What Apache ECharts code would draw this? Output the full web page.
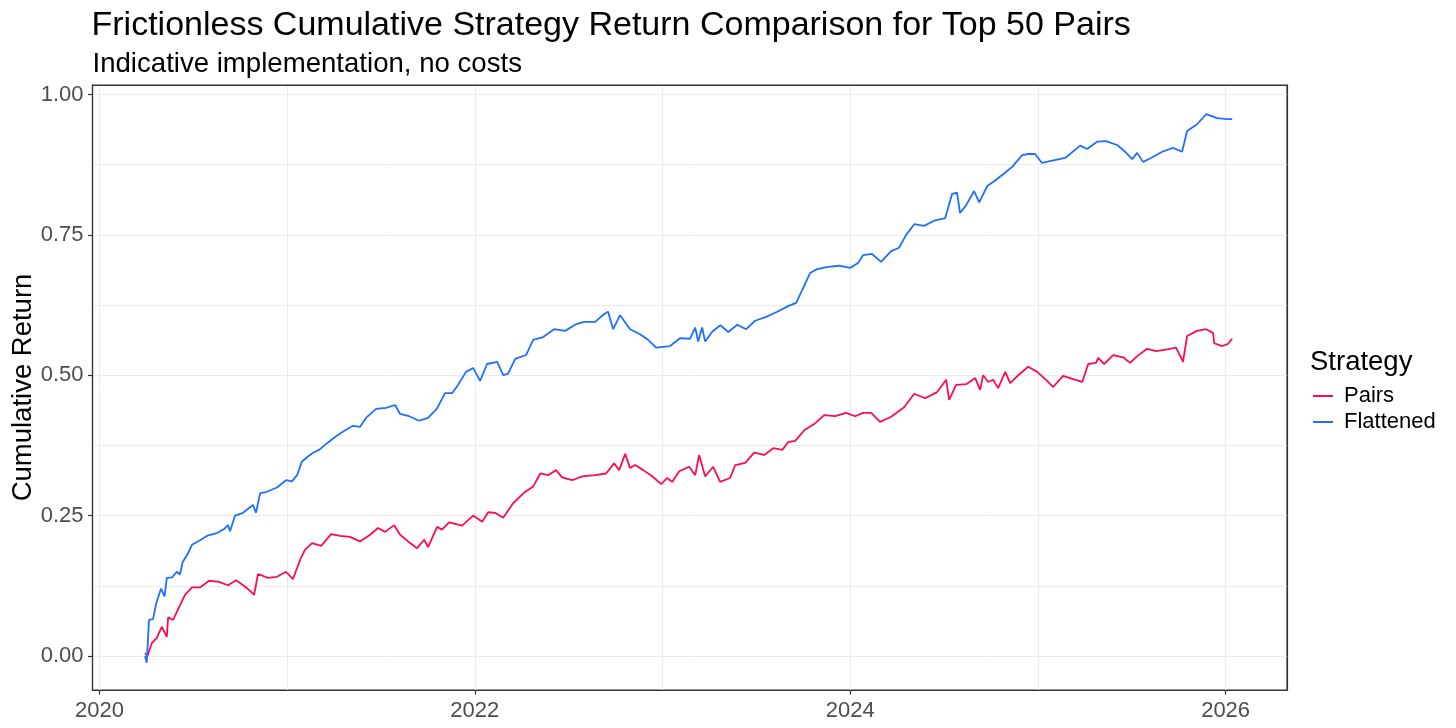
<!DOCTYPE html>
<html>
<head>
<meta charset="utf-8">
<script src="https://cdn.jsdelivr.net/npm/echarts@6/dist/echarts.min.js"></script>
<style>
  html, body { margin: 0; padding: 0; background: #ffffff; }
  #chart { width: 1456px; height: 728px; }
</style>
</head>
<body>
<div id="chart"></div>
<script>
// ---- Data (x = decimal year, y = cumulative return) ----
const seriesNames = ['Pairs', 'Flattened'];

const pairs = [
  [2020.243,0.005],[2020.256,0.000],[2020.279,0.023],[2020.305,0.032],[2020.332,0.052],[2020.359,0.034],[2020.366,0.069],[2020.392,0.064],[2020.424,0.087],[2020.456,0.109],
  [2020.493,0.122],[2020.536,0.122],[2020.584,0.134],[2020.637,0.132],[2020.685,0.126],[2020.728,0.135],[2020.786,0.121],[2020.824,0.109],[2020.845,0.146],[2020.898,0.139],
  [2020.946,0.141],[2020.994,0.150],[2021.031,0.137],[2021.069,0.171],[2021.095,0.189],[2021.133,0.201],[2021.181,0.196],[2021.234,0.217],[2021.282,0.214],[2021.335,0.212],
  [2021.388,0.204],[2021.442,0.216],[2021.484,0.228],[2021.522,0.221],[2021.570,0.233],[2021.602,0.216],[2021.644,0.204],[2021.692,0.192],[2021.730,0.207],[2021.751,0.194],
  [2021.799,0.230],[2021.825,0.225],[2021.863,0.238],[2021.932,0.232],[2021.991,0.250],[2022.039,0.239],[2022.071,0.256],[2022.108,0.255],[2022.151,0.246],[2022.204,0.272],
  [2022.263,0.291],[2022.311,0.302],[2022.349,0.325],[2022.391,0.322],[2022.433,0.331],[2022.465,0.318],[2022.518,0.313],[2022.572,0.320],[2022.641,0.322],[2022.699,0.325],
  [2022.742,0.343],[2022.769,0.331],[2022.801,0.360],[2022.827,0.335],[2022.854,0.340],[2022.897,0.331],[2022.945,0.320],[2022.993,0.306],[2023.025,0.317],[2023.051,0.310],
  [2023.089,0.329],[2023.142,0.337],[2023.174,0.322],[2023.195,0.358],[2023.227,0.320],[2023.270,0.337],[2023.307,0.310],[2023.360,0.317],[2023.387,0.340],[2023.441,0.344],
  [2023.488,0.362],[2023.542,0.358],[2023.590,0.370],[2023.638,0.367],[2023.670,0.381],[2023.707,0.383],[2023.755,0.402],[2023.808,0.413],[2023.861,0.429],[2023.920,0.427],
  [2023.978,0.433],[2024.026,0.427],[2024.069,0.433],[2024.112,0.433],[2024.159,0.417],[2024.218,0.426],[2024.287,0.443],[2024.341,0.467],[2024.399,0.459],[2024.463,0.470],
  [2024.511,0.492],[2024.527,0.456],[2024.564,0.483],[2024.618,0.484],[2024.666,0.495],[2024.692,0.474],[2024.708,0.500],[2024.735,0.488],[2024.761,0.492],[2024.788,0.477],
  [2024.826,0.506],[2024.852,0.486],[2024.895,0.500],[2024.948,0.515],[2024.996,0.506],[2025.049,0.490],[2025.081,0.479],[2025.134,0.499],[2025.188,0.493],[2025.236,0.488],
  [2025.268,0.520],[2025.310,0.522],[2025.321,0.531],[2025.353,0.520],[2025.401,0.536],[2025.454,0.532],[2025.491,0.522],[2025.529,0.534],[2025.582,0.547],[2025.630,0.543],
  [2025.688,0.546],[2025.736,0.549],[2025.757,0.535],[2025.773,0.524],[2025.795,0.570],[2025.848,0.579],[2025.897,0.582],[2025.934,0.575],[2025.939,0.557],[2025.982,0.552],
  [2026.013,0.556],[2026.035,0.565]
];

const flattened = [
  [2020.243,0.000],[2020.252,-0.012],[2020.264,0.064],[2020.286,0.066],[2020.302,0.093],[2020.328,0.120],[2020.347,0.106],[2020.359,0.139],[2020.387,0.140],[2020.412,0.150],
  [2020.429,0.145],[2020.443,0.167],[2020.472,0.183],[2020.493,0.198],[2020.536,0.206],[2020.579,0.215],[2020.627,0.219],[2020.664,0.226],[2020.685,0.233],[2020.696,0.222],
  [2020.722,0.250],[2020.765,0.255],[2020.818,0.269],[2020.834,0.255],[2020.856,0.290],[2020.888,0.292],[2020.946,0.300],[2020.994,0.313],[2021.026,0.311],[2021.053,0.322],
  [2021.078,0.346],[2021.106,0.354],[2021.138,0.362],[2021.170,0.367],[2021.213,0.379],[2021.255,0.390],[2021.309,0.402],[2021.351,0.410],[2021.388,0.408],[2021.420,0.424],
  [2021.474,0.440],[2021.527,0.442],[2021.575,0.447],[2021.602,0.431],[2021.650,0.427],[2021.703,0.419],[2021.751,0.424],[2021.799,0.441],[2021.841,0.468],[2021.879,0.468],
  [2021.911,0.483],[2021.953,0.506],[2021.991,0.513],[2022.028,0.490],[2022.065,0.520],[2022.119,0.524],[2022.151,0.500],[2022.177,0.503],[2022.215,0.529],[2022.273,0.536],
  [2022.311,0.563],[2022.364,0.568],[2022.422,0.582],[2022.481,0.579],[2022.534,0.590],[2022.582,0.595],[2022.641,0.595],[2022.689,0.609],[2022.710,0.613],[2022.737,0.582],
  [2022.774,0.607],[2022.827,0.582],[2022.880,0.573],[2022.923,0.563],[2022.966,0.549],[2023.040,0.552],[2023.093,0.566],[2023.147,0.565],[2023.174,0.585],[2023.190,0.560],
  [2023.211,0.585],[2023.227,0.560],[2023.266,0.578],[2023.308,0.589],[2023.350,0.577],[2023.398,0.590],[2023.446,0.582],[2023.493,0.597],[2023.552,0.604],[2023.611,0.613],
  [2023.669,0.623],[2023.712,0.629],[2023.749,0.655],[2023.786,0.682],[2023.823,0.689],[2023.882,0.693],[2023.941,0.695],[2023.999,0.691],[2024.042,0.700],[2024.069,0.714],
  [2024.116,0.716],[2024.164,0.702],[2024.218,0.721],[2024.260,0.727],[2024.298,0.750],[2024.341,0.769],[2024.394,0.766],[2024.452,0.776],[2024.506,0.780],[2024.543,0.823],
  [2024.569,0.825],[2024.585,0.789],[2024.618,0.803],[2024.660,0.828],[2024.687,0.808],[2024.730,0.837],[2024.761,0.844],[2024.815,0.858],[2024.863,0.871],[2024.916,0.892],
  [2024.948,0.894],[2024.985,0.894],[2025.022,0.878],[2025.076,0.882],[2025.145,0.887],[2025.225,0.909],[2025.262,0.903],[2025.315,0.916],[2025.363,0.917],[2025.422,0.910],
  [2025.465,0.898],[2025.502,0.885],[2025.529,0.896],[2025.560,0.880],[2025.603,0.887],[2025.662,0.898],[2025.720,0.905],[2025.768,0.898],[2025.795,0.935],[2025.848,0.947],
  [2025.897,0.965],[2025.955,0.958],[2026.008,0.956],[2026.035,0.956]
];

const xTicks = [2020, 2022, 2024, 2026];
const yTicks = [0, 0.25, 0.5, 0.75, 1.0];

// ---- Chart ----
const FONT = '"Liberation Sans", Arial, "DejaVu Sans", sans-serif';
const X_MIN = 2019.963, X_MAX = 2026.327;
const Y_MIN = -0.0606, Y_MAX = 1.0169;
const BORDER = '#333333';
const GRID = '#EBEBEB';

const chart = echarts.init(document.getElementById('chart'), null, { renderer: 'canvas' });

chart.setOption({
  animation: false,
  backgroundColor: '#ffffff',
  textStyle: { fontFamily: FONT },
  title: [
    { text: 'Frictionless Cumulative Strategy Return Comparison for Top 50 Pairs',
      left: 91.5, top: 9, padding: 0,
      textStyle: { fontFamily: FONT, fontSize: 34, fontWeight: 'normal', color: '#000000' } },
    { text: 'Indicative implementation, no costs',
      left: 92.5, top: 50, padding: 0,
      textStyle: { fontFamily: FONT, fontSize: 27.6, fontWeight: 'normal', color: '#000000' } },
    { text: 'Strategy',
      left: 1310, top: 348, padding: 0,
      textStyle: { fontFamily: FONT, fontSize: 27.5, fontWeight: 'normal', color: '#000000' } }
  ],
  legend: {
    data: seriesNames,
    orient: 'vertical',
    left: 1313, top: 385,
    padding: 0,
    itemWidth: 20, itemHeight: 2, itemGap: 4,
    icon: 'rect',
    textStyle: { fontFamily: FONT, fontSize: 22, lineHeight: 22, color: '#000000', padding: [0, 0, 0, 6] }
  },
  grid: {
    left: 92.5, right: 169, top: 85, bottom: 38,
    show: true, backgroundColor: '#ffffff', borderColor: BORDER, borderWidth: 1.2,
    containLabel: false, outerBoundsMode: 'none'
  },
  xAxis: [
    {
      type: 'value', min: X_MIN, max: X_MAX, position: 'bottom',
      minInterval: 2, maxInterval: 2,
      axisLine: { show: true, onZero: false, lineStyle: { color: BORDER, width: 1.2 } },
      axisTick: { show: true, length: 4.5, customValues: xTicks, lineStyle: { color: BORDER, width: 1.2 } },
      axisLabel: { show: true, customValues: xTicks, margin: 10,
        fontFamily: FONT, fontSize: 22, color: '#4D4D4D',
        formatter: v => String(Math.round(v)) },
      splitLine: { show: false }
    },
    {
      type: 'value', min: X_MIN, max: X_MAX, position: 'top',
      minInterval: 1, maxInterval: 1,
      axisLine: { show: true, onZero: false, lineStyle: { color: BORDER, width: 1.2 } },
      axisTick: { show: false }, axisLabel: { show: false },
      splitLine: { show: true, showMinLine: false, showMaxLine: false, lineStyle: { color: GRID, width: 1 } }
    }
  ],
  yAxis: [
    {
      type: 'value', min: Y_MIN, max: Y_MAX, position: 'left',
      minInterval: 0.25, maxInterval: 0.25,
      name: 'Cumulative Return', nameLocation: 'middle', nameGap: 55, nameMoveOverlap: false,
      nameTextStyle: { fontFamily: FONT, fontSize: 27.5, color: '#000000' },
      axisLine: { show: true, onZero: false, lineStyle: { color: BORDER, width: 1.2 } },
      axisTick: { show: true, length: 4.5, customValues: yTicks, lineStyle: { color: BORDER, width: 1.2 } },
      axisLabel: { show: true, customValues: yTicks, margin: 9,
        fontFamily: FONT, fontSize: 22, color: '#4D4D4D',
        formatter: v => v.toFixed(2) },
      splitLine: { show: false }
    },
    {
      type: 'value', min: Y_MIN, max: Y_MAX, position: 'right',
      minInterval: 0.125, maxInterval: 0.125,
      axisLine: { show: true, onZero: false, lineStyle: { color: BORDER, width: 1.2 } },
      axisTick: { show: false }, axisLabel: { show: false },
      splitLine: { show: true, showMinLine: false, showMaxLine: false, lineStyle: { color: GRID, width: 1 } }
    }
  ],
  series: [
    {
      name: seriesNames[0], type: 'line', data: pairs, xAxisIndex: 0, yAxisIndex: 0,
      showSymbol: false, symbol: 'none', color: '#FF0A55',
      lineStyle: { width: 1.8, color: '#FF0A55' }, z: 3
    },
    {
      name: seriesNames[1], type: 'line', data: flattened, xAxisIndex: 0, yAxisIndex: 0,
      showSymbol: false, symbol: 'none', color: '#1F6FFF',
      lineStyle: { width: 1.8, color: '#1F6FFF' }, z: 3
    }
  ]
});
</script>
</body>
</html>
